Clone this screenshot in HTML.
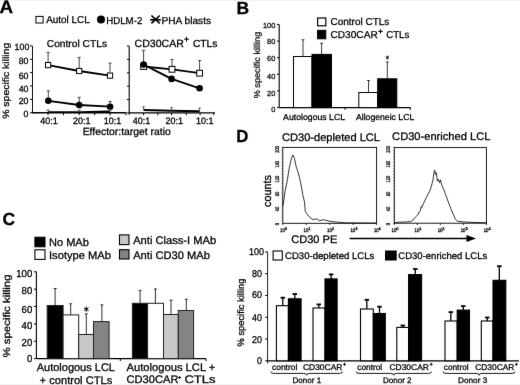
<!DOCTYPE html>
<html><head><meta charset="utf-8"><style>
html,body{margin:0;padding:0;background:#fff;}
svg{display:block;}
text{font-family:"Liberation Sans",sans-serif;text-rendering:geometricPrecision;stroke:currentColor;stroke-width:0.28px;}
</style></head><body>
<svg width="520" height="385" viewBox="0 0 520 385" xmlns="http://www.w3.org/2000/svg">
<defs><filter id="bl" x="0" y="0" width="1" height="1" color-interpolation-filters="sRGB"><feConvolveMatrix order="3" kernelMatrix="0.00276 0.04704 0.00276 0.04704 0.80077 0.04704 0.00276 0.04704 0.00276" divisor="1" edgeMode="duplicate" preserveAlpha="true"/></filter></defs>
<rect width="520" height="385" fill="#fff"/>
<g filter="url(#bl)">
<rect width="520" height="385" fill="#fff"/>
<text x="-0.50" y="12.80" font-size="18" textLength="13.60" lengthAdjust="spacingAndGlyphs" font-weight="bold">A</text>
<rect x="35.90" y="16.40" width="7.20" height="6.60" fill="#fff" stroke="#000" stroke-width="1.0"/>
<text x="46.20" y="23.40" font-size="10" textLength="43.60" lengthAdjust="spacingAndGlyphs">Autol LCL</text>
<circle cx="101.00" cy="19.50" r="4.0" fill="#000"/>
<text x="106.20" y="23.60" font-size="10" textLength="36.10" lengthAdjust="spacingAndGlyphs">HDLM-2</text>
<line x1="151.40" y1="15.50" x2="159.70" y2="23.30" stroke="#000" stroke-width="1.7"/>
<line x1="151.40" y1="23.30" x2="159.70" y2="15.50" stroke="#000" stroke-width="1.7"/>
<line x1="150.20" y1="19.80" x2="160.80" y2="19.80" stroke="#000" stroke-width="1.7"/>
<text x="161.60" y="23.70" font-size="10" textLength="49.40" lengthAdjust="spacingAndGlyphs">PHA blasts</text>
<line x1="32.50" y1="45.90" x2="32.50" y2="113.40" stroke="#111" stroke-width="1.0"/>
<line x1="30.00" y1="112.75" x2="32.25" y2="112.75" stroke="#000" stroke-width="1"/>
<line x1="30.00" y1="99.38" x2="32.25" y2="99.38" stroke="#000" stroke-width="1"/>
<line x1="30.00" y1="86.01" x2="32.25" y2="86.01" stroke="#000" stroke-width="1"/>
<line x1="30.00" y1="72.64" x2="32.25" y2="72.64" stroke="#000" stroke-width="1"/>
<line x1="30.00" y1="59.27" x2="32.25" y2="59.27" stroke="#000" stroke-width="1"/>
<line x1="30.00" y1="45.90" x2="32.25" y2="45.90" stroke="#000" stroke-width="1"/>
<text x="23.61" y="117.19" font-size="9.0" textLength="4.89" lengthAdjust="spacingAndGlyphs">0</text>
<text x="18.71" y="104.19" font-size="9.0" textLength="9.79" lengthAdjust="spacingAndGlyphs">20</text>
<text x="18.71" y="91.79" font-size="9.0" textLength="9.79" lengthAdjust="spacingAndGlyphs">40</text>
<text x="18.71" y="78.59" font-size="9.0" textLength="9.79" lengthAdjust="spacingAndGlyphs">60</text>
<text x="18.71" y="63.90" font-size="9.0" textLength="9.79" lengthAdjust="spacingAndGlyphs">80</text>
<text x="14.62" y="50.49" font-size="9.0" textLength="14.68" lengthAdjust="spacingAndGlyphs">100</text>
<text x="8.70" y="118.80" font-size="9.2" textLength="76.00" lengthAdjust="spacingAndGlyphs" transform="rotate(-90 8.70 118.80)">% specific killing</text>
<line x1="32.25" y1="112.75" x2="126.30" y2="112.75" stroke="#000" stroke-width="1.4"/>
<line x1="48.00" y1="112.75" x2="48.00" y2="115.20" stroke="#000" stroke-width="1"/>
<line x1="63.50" y1="112.75" x2="63.50" y2="115.20" stroke="#000" stroke-width="1"/>
<line x1="79.20" y1="112.75" x2="79.20" y2="115.20" stroke="#000" stroke-width="1"/>
<line x1="94.60" y1="112.75" x2="94.60" y2="115.20" stroke="#000" stroke-width="1"/>
<line x1="110.10" y1="112.75" x2="110.10" y2="115.20" stroke="#000" stroke-width="1"/>
<line x1="126.00" y1="112.75" x2="126.00" y2="115.20" stroke="#000" stroke-width="1"/>
<text x="40.25" y="124.10" font-size="9.4" textLength="17.50" lengthAdjust="spacingAndGlyphs">40:1</text>
<text x="72.95" y="124.10" font-size="9.4" textLength="17.50" lengthAdjust="spacingAndGlyphs">20:1</text>
<text x="103.75" y="124.10" font-size="9.4" textLength="17.50" lengthAdjust="spacingAndGlyphs">10:1</text>
<text x="46.75" y="47.40" font-size="10" textLength="60.25" lengthAdjust="spacingAndGlyphs">Control CTLs</text>
<text x="82.70" y="135.40" font-size="10.4" textLength="88.10" lengthAdjust="spacingAndGlyphs">Effector:target ratio</text>
<line x1="48.10" y1="62.10" x2="48.10" y2="52.30" stroke="#444" stroke-width="1"/>
<line x1="46.60" y1="52.30" x2="49.60" y2="52.30" stroke="#444" stroke-width="1"/>
<line x1="79.20" y1="68.00" x2="79.20" y2="57.40" stroke="#444" stroke-width="1"/>
<line x1="77.70" y1="57.40" x2="80.70" y2="57.40" stroke="#444" stroke-width="1"/>
<line x1="110.00" y1="72.60" x2="110.00" y2="63.10" stroke="#444" stroke-width="1"/>
<line x1="108.50" y1="63.10" x2="111.50" y2="63.10" stroke="#444" stroke-width="1"/>
<polyline points="48.10,65.10 79.20,71.00 110.00,75.60" stroke="#000" stroke-width="1.8" fill="none" stroke-linejoin="round"/>
<rect x="45.50" y="62.50" width="5.20" height="5.20" fill="#fff" stroke="#000" stroke-width="1.0"/>
<rect x="76.60" y="68.40" width="5.20" height="5.20" fill="#fff" stroke="#000" stroke-width="1.0"/>
<rect x="107.40" y="73.00" width="5.20" height="5.20" fill="#fff" stroke="#000" stroke-width="1.0"/>
<line x1="48.30" y1="100.80" x2="48.30" y2="90.80" stroke="#444" stroke-width="1"/>
<line x1="46.80" y1="90.80" x2="49.80" y2="90.80" stroke="#444" stroke-width="1"/>
<line x1="79.20" y1="105.00" x2="79.20" y2="97.30" stroke="#444" stroke-width="1"/>
<line x1="77.70" y1="97.30" x2="80.70" y2="97.30" stroke="#444" stroke-width="1"/>
<line x1="110.10" y1="106.70" x2="110.10" y2="101.50" stroke="#444" stroke-width="1"/>
<line x1="108.60" y1="101.50" x2="111.60" y2="101.50" stroke="#444" stroke-width="1"/>
<polyline points="48.30,100.80 79.20,105.00 110.10,106.70" stroke="#000" stroke-width="1.8" fill="none" stroke-linejoin="round"/>
<circle cx="48.30" cy="100.80" r="3.3" fill="#000"/>
<circle cx="79.20" cy="105.00" r="3.3" fill="#000"/>
<circle cx="110.10" cy="106.70" r="3.3" fill="#000"/>
<polyline points="48.00,112.00 79.20,112.00 110.10,111.20" stroke="#000" stroke-width="1.6" fill="none" stroke-linejoin="round"/>
<line x1="46.75" y1="109.30" x2="49.25" y2="111.30" stroke="#777" stroke-width="0.7"/>
<line x1="46.75" y1="111.30" x2="49.25" y2="109.30" stroke="#777" stroke-width="0.7"/>
<line x1="46.25" y1="110.30" x2="49.75" y2="110.30" stroke="#777" stroke-width="0.7"/>
<line x1="77.95" y1="109.30" x2="80.45" y2="111.30" stroke="#777" stroke-width="0.7"/>
<line x1="77.95" y1="111.30" x2="80.45" y2="109.30" stroke="#777" stroke-width="0.7"/>
<line x1="77.45" y1="110.30" x2="80.95" y2="110.30" stroke="#777" stroke-width="0.7"/>
<line x1="108.85" y1="109.30" x2="111.35" y2="111.30" stroke="#777" stroke-width="0.7"/>
<line x1="108.85" y1="111.30" x2="111.35" y2="109.30" stroke="#777" stroke-width="0.7"/>
<line x1="108.35" y1="110.30" x2="111.85" y2="110.30" stroke="#777" stroke-width="0.7"/>
<line x1="129.20" y1="46.20" x2="129.20" y2="114.80" stroke="#000" stroke-width="1.1"/>
<line x1="127.00" y1="112.90" x2="129.20" y2="112.90" stroke="#000" stroke-width="1"/>
<line x1="127.00" y1="99.53" x2="129.20" y2="99.53" stroke="#000" stroke-width="1"/>
<line x1="127.00" y1="86.16" x2="129.20" y2="86.16" stroke="#000" stroke-width="1"/>
<line x1="127.00" y1="72.79" x2="129.20" y2="72.79" stroke="#000" stroke-width="1"/>
<line x1="127.00" y1="59.42" x2="129.20" y2="59.42" stroke="#000" stroke-width="1"/>
<line x1="127.00" y1="46.05" x2="129.20" y2="46.05" stroke="#000" stroke-width="1"/>
<line x1="129.20" y1="112.90" x2="215.00" y2="112.90" stroke="#000" stroke-width="1.4"/>
<line x1="143.60" y1="112.90" x2="143.60" y2="115.20" stroke="#000" stroke-width="1"/>
<line x1="157.80" y1="112.90" x2="157.80" y2="115.20" stroke="#000" stroke-width="1"/>
<line x1="171.50" y1="112.90" x2="171.50" y2="115.20" stroke="#000" stroke-width="1"/>
<line x1="186.30" y1="112.90" x2="186.30" y2="115.20" stroke="#000" stroke-width="1"/>
<line x1="200.10" y1="112.90" x2="200.10" y2="115.20" stroke="#000" stroke-width="1"/>
<line x1="213.80" y1="112.90" x2="213.80" y2="115.20" stroke="#000" stroke-width="1"/>
<text x="132.75" y="124.10" font-size="9.4" textLength="17.50" lengthAdjust="spacingAndGlyphs">40:1</text>
<text x="165.55" y="124.10" font-size="9.4" textLength="17.50" lengthAdjust="spacingAndGlyphs">20:1</text>
<text x="195.95" y="124.10" font-size="9.4" textLength="17.50" lengthAdjust="spacingAndGlyphs">10:1</text>
<text x="134.60" y="46.70" font-size="10.5" textLength="49.20" lengthAdjust="spacingAndGlyphs">CD30CAR</text>
<line x1="184.20" y1="39.20" x2="188.80" y2="39.20" stroke="#000" stroke-width="1.1"/>
<line x1="186.50" y1="36.90" x2="186.50" y2="41.50" stroke="#000" stroke-width="1.1"/>
<text x="192.90" y="46.70" font-size="10.2" textLength="24.60" lengthAdjust="spacingAndGlyphs">CTLs</text>
<line x1="143.60" y1="64.00" x2="143.60" y2="50.30" stroke="#444" stroke-width="1"/>
<line x1="142.10" y1="50.30" x2="145.10" y2="50.30" stroke="#444" stroke-width="1"/>
<line x1="172.00" y1="66.00" x2="172.00" y2="59.50" stroke="#444" stroke-width="1"/>
<line x1="170.50" y1="59.50" x2="173.50" y2="59.50" stroke="#444" stroke-width="1"/>
<line x1="199.60" y1="70.00" x2="199.60" y2="60.60" stroke="#444" stroke-width="1"/>
<line x1="198.10" y1="60.60" x2="201.10" y2="60.60" stroke="#444" stroke-width="1"/>
<polyline points="143.60,66.50 172.00,69.30 199.60,73.20" stroke="#000" stroke-width="1.8" fill="none" stroke-linejoin="round"/>
<polyline points="143.60,64.60 171.60,78.90 199.60,88.30" stroke="#000" stroke-width="1.8" fill="none" stroke-linejoin="round"/>
<rect x="140.70" y="63.60" width="5.80" height="5.80" fill="#fff" stroke="#000" stroke-width="1.0"/>
<rect x="169.10" y="66.40" width="5.80" height="5.80" fill="#fff" stroke="#000" stroke-width="1.0"/>
<rect x="196.70" y="70.30" width="5.80" height="5.80" fill="#fff" stroke="#000" stroke-width="1.0"/>
<circle cx="143.60" cy="64.60" r="3.3" fill="#000"/>
<circle cx="171.60" cy="78.90" r="3.3" fill="#000"/>
<circle cx="199.60" cy="88.30" r="3.3" fill="#000"/>
<polyline points="143.60,110.00 171.60,110.80 199.60,111.30" stroke="#000" stroke-width="1.9" fill="none" stroke-linejoin="round"/>
<line x1="143.60" y1="110.00" x2="143.60" y2="106.80" stroke="#333" stroke-width="0.8"/>
<line x1="142.40" y1="106.80" x2="144.80" y2="106.80" stroke="#333" stroke-width="0.8"/>
<line x1="171.60" y1="110.80" x2="171.60" y2="107.60" stroke="#333" stroke-width="0.8"/>
<line x1="170.40" y1="107.60" x2="172.80" y2="107.60" stroke="#333" stroke-width="0.8"/>
<line x1="199.60" y1="111.30" x2="199.60" y2="108.10" stroke="#333" stroke-width="0.8"/>
<line x1="198.40" y1="108.10" x2="200.80" y2="108.10" stroke="#333" stroke-width="0.8"/>
<text x="236.60" y="13.80" font-size="17.5" font-weight="bold">B</text>
<line x1="279.20" y1="24.40" x2="279.20" y2="107.60" stroke="#000" stroke-width="1.1"/>
<line x1="277.00" y1="107.60" x2="279.20" y2="107.60" stroke="#000" stroke-width="1"/>
<line x1="277.00" y1="90.96" x2="279.20" y2="90.96" stroke="#000" stroke-width="1"/>
<line x1="277.00" y1="74.32" x2="279.20" y2="74.32" stroke="#000" stroke-width="1"/>
<line x1="277.00" y1="57.68" x2="279.20" y2="57.68" stroke="#000" stroke-width="1"/>
<line x1="277.00" y1="41.04" x2="279.20" y2="41.04" stroke="#000" stroke-width="1"/>
<line x1="277.00" y1="24.40" x2="279.20" y2="24.40" stroke="#000" stroke-width="1"/>
<text x="275.30" y="111.53" font-size="7.4" text-anchor="end" fill="#222">0</text>
<text x="275.30" y="95.63" font-size="7.4" text-anchor="end" fill="#222">20</text>
<text x="275.30" y="78.63" font-size="7.4" text-anchor="end" fill="#222">40</text>
<text x="275.30" y="61.23" font-size="7.4" text-anchor="end" fill="#222">60</text>
<text x="275.30" y="43.83" font-size="7.4" text-anchor="end" fill="#222">80</text>
<text x="275.30" y="27.83" font-size="7.4" text-anchor="end" fill="#222">100</text>
<line x1="279.20" y1="107.60" x2="410.50" y2="107.60" stroke="#000" stroke-width="1.2"/>
<line x1="345.00" y1="107.60" x2="345.00" y2="109.80" stroke="#000" stroke-width="1"/>
<line x1="410.30" y1="107.60" x2="410.30" y2="109.80" stroke="#000" stroke-width="1"/>
<line x1="303.00" y1="56.50" x2="303.00" y2="39.80" stroke="#222" stroke-width="0.9"/>
<line x1="301.50" y1="39.80" x2="304.50" y2="39.80" stroke="#222" stroke-width="0.9"/>
<line x1="321.60" y1="54.40" x2="321.60" y2="43.30" stroke="#222" stroke-width="0.9"/>
<line x1="320.10" y1="43.30" x2="323.10" y2="43.30" stroke="#222" stroke-width="0.9"/>
<line x1="368.50" y1="92.50" x2="368.50" y2="80.50" stroke="#222" stroke-width="0.9"/>
<line x1="367.00" y1="80.50" x2="370.00" y2="80.50" stroke="#222" stroke-width="0.9"/>
<line x1="387.30" y1="78.80" x2="387.30" y2="62.00" stroke="#222" stroke-width="0.9"/>
<line x1="385.80" y1="62.00" x2="388.80" y2="62.00" stroke="#222" stroke-width="0.9"/>
<rect x="293.50" y="56.50" width="18.50" height="51.10" fill="#fff" stroke="#000" stroke-width="1"/>
<rect x="312.00" y="54.40" width="19.50" height="53.20" fill="#000" stroke="#000" stroke-width="1"/>
<rect x="358.80" y="92.50" width="18.90" height="15.10" fill="#fff" stroke="#000" stroke-width="1"/>
<rect x="377.70" y="78.80" width="19.10" height="28.80" fill="#000" stroke="#000" stroke-width="1"/>
<line x1="387.40" y1="55.50" x2="387.40" y2="59.50" stroke="#000" stroke-width="0.8"/>
<line x1="385.67" y1="56.50" x2="389.13" y2="58.50" stroke="#000" stroke-width="0.8"/>
<line x1="389.13" y1="56.50" x2="385.67" y2="58.50" stroke="#000" stroke-width="0.8"/>
<text x="260.40" y="98.30" font-size="8.6" textLength="66.60" lengthAdjust="spacingAndGlyphs" fill="#333" transform="rotate(-90 260.40 98.30)">% specific killing</text>
<rect x="317.60" y="18.00" width="8.20" height="7.80" fill="#fff" stroke="#000" stroke-width="1.2"/>
<text x="330.50" y="24.80" font-size="10" textLength="58.80" lengthAdjust="spacingAndGlyphs">Control CTLs</text>
<rect x="317.60" y="30.30" width="8.20" height="8.50" fill="#000" stroke="#000" stroke-width="1"/>
<text x="330.50" y="37.60" font-size="10" textLength="47.20" lengthAdjust="spacingAndGlyphs">CD30CAR</text>
<line x1="378.35" y1="31.40" x2="382.65" y2="31.40" stroke="#000" stroke-width="1.1"/>
<line x1="380.50" y1="29.25" x2="380.50" y2="33.55" stroke="#000" stroke-width="1.1"/>
<text x="386.20" y="37.60" font-size="10" textLength="23.20" lengthAdjust="spacingAndGlyphs">CTLs</text>
<text x="283.10" y="120.00" font-size="8.7" textLength="62.00" lengthAdjust="spacingAndGlyphs">Autologous LCL</text>
<text x="356.00" y="120.00" font-size="8.7" textLength="58.20" lengthAdjust="spacingAndGlyphs">Allogeneic LCL</text>
<text x="2.60" y="224.80" font-size="17.5" font-weight="bold">C</text>
<rect x="34.90" y="237.20" width="10.10" height="9.60" fill="#000" stroke="#000" stroke-width="1"/>
<text x="49.00" y="245.60" font-size="11.0" textLength="39.80" lengthAdjust="spacingAndGlyphs">No MAb</text>
<rect x="34.90" y="249.80" width="10.10" height="9.60" fill="#fff" stroke="#000" stroke-width="1.1"/>
<text x="49.00" y="258.70" font-size="11.0" textLength="62.00" lengthAdjust="spacingAndGlyphs">Isotype MAb</text>
<rect x="119.50" y="234.90" width="9.50" height="9.70" fill="#c8c8c8" stroke="#000" stroke-width="1.1"/>
<text x="133.20" y="244.00" font-size="11.0" textLength="83.00" lengthAdjust="spacingAndGlyphs">Anti Class-I MAb</text>
<rect x="119.50" y="249.70" width="9.50" height="9.30" fill="#848484" stroke="#000" stroke-width="1.1"/>
<text x="133.20" y="259.00" font-size="11.0" textLength="76.80" lengthAdjust="spacingAndGlyphs">Anti CD30 MAb</text>
<line x1="36.40" y1="271.80" x2="36.40" y2="358.60" stroke="#000" stroke-width="1.1"/>
<line x1="34.00" y1="358.60" x2="36.40" y2="358.60" stroke="#000" stroke-width="1"/>
<line x1="34.00" y1="341.24" x2="36.40" y2="341.24" stroke="#000" stroke-width="1"/>
<line x1="34.00" y1="323.88" x2="36.40" y2="323.88" stroke="#000" stroke-width="1"/>
<line x1="34.00" y1="306.52" x2="36.40" y2="306.52" stroke="#000" stroke-width="1"/>
<line x1="34.00" y1="289.16" x2="36.40" y2="289.16" stroke="#000" stroke-width="1"/>
<line x1="34.00" y1="271.80" x2="36.40" y2="271.80" stroke="#000" stroke-width="1"/>
<text x="26.96" y="361.89" font-size="10.1" textLength="5.34" lengthAdjust="spacingAndGlyphs">0</text>
<text x="21.62" y="345.99" font-size="10.1" textLength="10.68" lengthAdjust="spacingAndGlyphs">20</text>
<text x="21.62" y="329.19" font-size="10.1" textLength="10.68" lengthAdjust="spacingAndGlyphs">40</text>
<text x="21.62" y="313.09" font-size="10.1" textLength="10.68" lengthAdjust="spacingAndGlyphs">60</text>
<text x="21.62" y="294.19" font-size="10.1" textLength="10.68" lengthAdjust="spacingAndGlyphs">80</text>
<text x="16.29" y="277.19" font-size="10.1" textLength="16.01" lengthAdjust="spacingAndGlyphs">100</text>
<line x1="36.40" y1="358.60" x2="206.00" y2="358.60" stroke="#000" stroke-width="1.2"/>
<line x1="120.30" y1="358.60" x2="120.30" y2="361.00" stroke="#000" stroke-width="1"/>
<line x1="206.00" y1="358.60" x2="206.00" y2="361.00" stroke="#000" stroke-width="1"/>
<line x1="55.10" y1="305.50" x2="55.10" y2="288.50" stroke="#1a1a1a" stroke-width="0.9"/>
<line x1="53.60" y1="288.50" x2="56.60" y2="288.50" stroke="#1a1a1a" stroke-width="0.9"/>
<line x1="70.70" y1="314.90" x2="70.70" y2="303.80" stroke="#1a1a1a" stroke-width="0.9"/>
<line x1="69.20" y1="303.80" x2="72.20" y2="303.80" stroke="#1a1a1a" stroke-width="0.9"/>
<line x1="86.30" y1="334.50" x2="86.30" y2="313.90" stroke="#1a1a1a" stroke-width="0.9"/>
<line x1="84.80" y1="313.90" x2="87.80" y2="313.90" stroke="#1a1a1a" stroke-width="0.9"/>
<line x1="101.90" y1="321.60" x2="101.90" y2="304.90" stroke="#1a1a1a" stroke-width="0.9"/>
<line x1="100.40" y1="304.90" x2="103.40" y2="304.90" stroke="#1a1a1a" stroke-width="0.9"/>
<line x1="140.10" y1="303.30" x2="140.10" y2="290.40" stroke="#1a1a1a" stroke-width="0.9"/>
<line x1="138.60" y1="290.40" x2="141.60" y2="290.40" stroke="#1a1a1a" stroke-width="0.9"/>
<line x1="155.40" y1="303.30" x2="155.40" y2="289.00" stroke="#1a1a1a" stroke-width="0.9"/>
<line x1="153.90" y1="289.00" x2="156.90" y2="289.00" stroke="#1a1a1a" stroke-width="0.9"/>
<line x1="171.00" y1="314.50" x2="171.00" y2="300.20" stroke="#1a1a1a" stroke-width="0.9"/>
<line x1="169.50" y1="300.20" x2="172.50" y2="300.20" stroke="#1a1a1a" stroke-width="0.9"/>
<line x1="186.30" y1="310.50" x2="186.30" y2="299.30" stroke="#1a1a1a" stroke-width="0.9"/>
<line x1="184.80" y1="299.30" x2="187.80" y2="299.30" stroke="#1a1a1a" stroke-width="0.9"/>
<rect x="47.20" y="305.50" width="15.90" height="53.10" fill="#000" stroke="#222" stroke-width="1"/>
<rect x="63.10" y="314.90" width="15.60" height="43.70" fill="#fff" stroke="#222" stroke-width="1"/>
<rect x="78.70" y="334.50" width="14.80" height="24.10" fill="#c8c8c8" stroke="#222" stroke-width="1"/>
<rect x="93.50" y="321.60" width="15.60" height="37.00" fill="#848484" stroke="#222" stroke-width="1"/>
<rect x="132.40" y="303.30" width="15.20" height="55.30" fill="#000" stroke="#222" stroke-width="1"/>
<rect x="147.60" y="303.30" width="15.90" height="55.30" fill="#fff" stroke="#222" stroke-width="1"/>
<rect x="163.50" y="314.50" width="14.80" height="44.10" fill="#c8c8c8" stroke="#222" stroke-width="1"/>
<rect x="178.30" y="310.50" width="15.30" height="48.10" fill="#848484" stroke="#222" stroke-width="1"/>
<line x1="86.30" y1="306.60" x2="86.30" y2="311.80" stroke="#000" stroke-width="1"/>
<line x1="84.05" y1="307.90" x2="88.55" y2="310.50" stroke="#000" stroke-width="1"/>
<line x1="88.55" y1="307.90" x2="84.05" y2="310.50" stroke="#000" stroke-width="1"/>
<text x="10.00" y="357.50" font-size="9.8" textLength="83.00" lengthAdjust="spacingAndGlyphs" transform="rotate(-90 10.00 357.50)">% specific killing</text>
<text x="36.70" y="371.30" font-size="11.0" textLength="78.30" lengthAdjust="spacingAndGlyphs">Autologous LCL</text>
<text x="39.60" y="383.60" font-size="11.0" textLength="72.70" lengthAdjust="spacingAndGlyphs">+ control CTLs</text>
<text x="126.50" y="371.10" font-size="11.0" textLength="88.90" lengthAdjust="spacingAndGlyphs">Autologous LCL +</text>
<text x="126.50" y="383.00" font-size="11.0" textLength="52.00" lengthAdjust="spacingAndGlyphs">CD30CAR</text>
<line x1="178.10" y1="377.50" x2="181.10" y2="377.50" stroke="#000" stroke-width="0.9"/>
<line x1="179.60" y1="376.00" x2="179.60" y2="379.00" stroke="#000" stroke-width="0.9"/>
<text x="184.40" y="383.00" font-size="11.0" textLength="31.00" lengthAdjust="spacingAndGlyphs">CTLs</text>
<text x="236.20" y="142.00" font-size="17.5" textLength="12.10" lengthAdjust="spacingAndGlyphs" font-weight="bold">D</text>
<text x="282.00" y="141.30" font-size="11.0" textLength="98.00" lengthAdjust="spacingAndGlyphs">CD30-depleted LCL</text>
<text x="392.10" y="139.80" font-size="11.0" textLength="98.30" lengthAdjust="spacingAndGlyphs">CD30-enriched LCL</text>
<rect x="282.80" y="147.40" width="93.80" height="75.90" fill="none" stroke="#000" stroke-width="0.9"/>
<rect x="394.30" y="147.60" width="92.10" height="75.60" fill="none" stroke="#000" stroke-width="0.9"/>
<text x="271.30" y="207.00" font-size="11.3" textLength="31.80" lengthAdjust="spacingAndGlyphs" transform="rotate(-90 271.30 207.00)">counts</text>
<line x1="282.80" y1="223.30" x2="282.80" y2="225.00" stroke="#000" stroke-width="0.8"/>
<text x="280.10" y="232.20" font-size="5.2" textLength="4.80" lengthAdjust="spacingAndGlyphs" fill="#111">10</text>
<text x="284.80" y="229.70" font-size="4.0" fill="#111">0</text>
<line x1="306.25" y1="223.30" x2="306.25" y2="225.00" stroke="#000" stroke-width="0.8"/>
<text x="303.55" y="232.20" font-size="5.2" textLength="4.80" lengthAdjust="spacingAndGlyphs" fill="#111">10</text>
<text x="308.25" y="229.70" font-size="4.0" fill="#111">1</text>
<line x1="329.70" y1="223.30" x2="329.70" y2="225.00" stroke="#000" stroke-width="0.8"/>
<text x="327.00" y="232.20" font-size="5.2" textLength="4.80" lengthAdjust="spacingAndGlyphs" fill="#111">10</text>
<text x="331.70" y="229.70" font-size="4.0" fill="#111">2</text>
<line x1="353.15" y1="223.30" x2="353.15" y2="225.00" stroke="#000" stroke-width="0.8"/>
<text x="350.45" y="232.20" font-size="5.2" textLength="4.80" lengthAdjust="spacingAndGlyphs" fill="#111">10</text>
<text x="355.15" y="229.70" font-size="4.0" fill="#111">3</text>
<line x1="376.60" y1="223.30" x2="376.60" y2="225.00" stroke="#000" stroke-width="0.8"/>
<text x="373.90" y="232.20" font-size="5.2" textLength="4.80" lengthAdjust="spacingAndGlyphs" fill="#111">10</text>
<text x="378.60" y="229.70" font-size="4.0" fill="#111">4</text>
<line x1="281.60" y1="223.30" x2="282.80" y2="223.30" stroke="#333" stroke-width="0.6"/>
<line x1="281.60" y1="220.26" x2="282.80" y2="220.26" stroke="#333" stroke-width="0.6"/>
<line x1="281.60" y1="217.21" x2="282.80" y2="217.21" stroke="#333" stroke-width="0.6"/>
<line x1="281.60" y1="214.17" x2="282.80" y2="214.17" stroke="#333" stroke-width="0.6"/>
<line x1="281.60" y1="211.12" x2="282.80" y2="211.12" stroke="#333" stroke-width="0.6"/>
<line x1="281.60" y1="208.08" x2="282.80" y2="208.08" stroke="#333" stroke-width="0.6"/>
<line x1="281.60" y1="205.04" x2="282.80" y2="205.04" stroke="#333" stroke-width="0.6"/>
<line x1="281.60" y1="201.99" x2="282.80" y2="201.99" stroke="#333" stroke-width="0.6"/>
<line x1="281.60" y1="198.95" x2="282.80" y2="198.95" stroke="#333" stroke-width="0.6"/>
<line x1="281.60" y1="195.90" x2="282.80" y2="195.90" stroke="#333" stroke-width="0.6"/>
<line x1="281.60" y1="192.86" x2="282.80" y2="192.86" stroke="#333" stroke-width="0.6"/>
<line x1="281.60" y1="189.82" x2="282.80" y2="189.82" stroke="#333" stroke-width="0.6"/>
<line x1="281.60" y1="186.77" x2="282.80" y2="186.77" stroke="#333" stroke-width="0.6"/>
<line x1="281.60" y1="183.73" x2="282.80" y2="183.73" stroke="#333" stroke-width="0.6"/>
<line x1="281.60" y1="180.68" x2="282.80" y2="180.68" stroke="#333" stroke-width="0.6"/>
<line x1="281.60" y1="177.64" x2="282.80" y2="177.64" stroke="#333" stroke-width="0.6"/>
<line x1="281.60" y1="174.60" x2="282.80" y2="174.60" stroke="#333" stroke-width="0.6"/>
<line x1="281.60" y1="171.55" x2="282.80" y2="171.55" stroke="#333" stroke-width="0.6"/>
<line x1="281.60" y1="168.51" x2="282.80" y2="168.51" stroke="#333" stroke-width="0.6"/>
<line x1="281.60" y1="165.46" x2="282.80" y2="165.46" stroke="#333" stroke-width="0.6"/>
<line x1="281.60" y1="162.42" x2="282.80" y2="162.42" stroke="#333" stroke-width="0.6"/>
<line x1="281.60" y1="159.38" x2="282.80" y2="159.38" stroke="#333" stroke-width="0.6"/>
<line x1="281.60" y1="156.33" x2="282.80" y2="156.33" stroke="#333" stroke-width="0.6"/>
<line x1="281.60" y1="153.29" x2="282.80" y2="153.29" stroke="#333" stroke-width="0.6"/>
<line x1="281.60" y1="150.24" x2="282.80" y2="150.24" stroke="#333" stroke-width="0.6"/>
<line x1="281.60" y1="147.20" x2="282.80" y2="147.20" stroke="#333" stroke-width="0.6"/>
<text x="279.00" y="152.65" font-size="5.4" textLength="6.70" lengthAdjust="spacingAndGlyphs" fill="#111" transform="rotate(-90 279.00 152.65)">200</text>
<text x="279.00" y="167.59" font-size="5.4" textLength="6.70" lengthAdjust="spacingAndGlyphs" fill="#111" transform="rotate(-90 279.00 167.59)">160</text>
<text x="279.00" y="182.53" font-size="5.4" textLength="6.70" lengthAdjust="spacingAndGlyphs" fill="#111" transform="rotate(-90 279.00 182.53)">120</text>
<text x="279.00" y="196.37" font-size="5.4" textLength="4.50" lengthAdjust="spacingAndGlyphs" fill="#111" transform="rotate(-90 279.00 196.37)">80</text>
<text x="279.00" y="211.31" font-size="5.4" textLength="4.50" lengthAdjust="spacingAndGlyphs" fill="#111" transform="rotate(-90 279.00 211.31)">40</text>
<text x="279.00" y="225.15" font-size="5.4" textLength="2.30" lengthAdjust="spacingAndGlyphs" fill="#111" transform="rotate(-90 279.00 225.15)">0</text>
<line x1="394.30" y1="223.30" x2="394.30" y2="225.00" stroke="#000" stroke-width="0.8"/>
<text x="391.60" y="232.20" font-size="5.2" textLength="4.80" lengthAdjust="spacingAndGlyphs" fill="#111">10</text>
<text x="396.30" y="229.70" font-size="4.0" fill="#111">0</text>
<line x1="417.32" y1="223.30" x2="417.32" y2="225.00" stroke="#000" stroke-width="0.8"/>
<text x="414.62" y="232.20" font-size="5.2" textLength="4.80" lengthAdjust="spacingAndGlyphs" fill="#111">10</text>
<text x="419.32" y="229.70" font-size="4.0" fill="#111">1</text>
<line x1="440.35" y1="223.30" x2="440.35" y2="225.00" stroke="#000" stroke-width="0.8"/>
<text x="437.65" y="232.20" font-size="5.2" textLength="4.80" lengthAdjust="spacingAndGlyphs" fill="#111">10</text>
<text x="442.35" y="229.70" font-size="4.0" fill="#111">2</text>
<line x1="463.38" y1="223.30" x2="463.38" y2="225.00" stroke="#000" stroke-width="0.8"/>
<text x="460.68" y="232.20" font-size="5.2" textLength="4.80" lengthAdjust="spacingAndGlyphs" fill="#111">10</text>
<text x="465.38" y="229.70" font-size="4.0" fill="#111">3</text>
<line x1="486.40" y1="223.30" x2="486.40" y2="225.00" stroke="#000" stroke-width="0.8"/>
<text x="483.70" y="232.20" font-size="5.2" textLength="4.80" lengthAdjust="spacingAndGlyphs" fill="#111">10</text>
<text x="488.40" y="229.70" font-size="4.0" fill="#111">4</text>
<line x1="393.10" y1="223.30" x2="394.30" y2="223.30" stroke="#333" stroke-width="0.6"/>
<line x1="393.10" y1="220.26" x2="394.30" y2="220.26" stroke="#333" stroke-width="0.6"/>
<line x1="393.10" y1="217.21" x2="394.30" y2="217.21" stroke="#333" stroke-width="0.6"/>
<line x1="393.10" y1="214.17" x2="394.30" y2="214.17" stroke="#333" stroke-width="0.6"/>
<line x1="393.10" y1="211.12" x2="394.30" y2="211.12" stroke="#333" stroke-width="0.6"/>
<line x1="393.10" y1="208.08" x2="394.30" y2="208.08" stroke="#333" stroke-width="0.6"/>
<line x1="393.10" y1="205.04" x2="394.30" y2="205.04" stroke="#333" stroke-width="0.6"/>
<line x1="393.10" y1="201.99" x2="394.30" y2="201.99" stroke="#333" stroke-width="0.6"/>
<line x1="393.10" y1="198.95" x2="394.30" y2="198.95" stroke="#333" stroke-width="0.6"/>
<line x1="393.10" y1="195.90" x2="394.30" y2="195.90" stroke="#333" stroke-width="0.6"/>
<line x1="393.10" y1="192.86" x2="394.30" y2="192.86" stroke="#333" stroke-width="0.6"/>
<line x1="393.10" y1="189.82" x2="394.30" y2="189.82" stroke="#333" stroke-width="0.6"/>
<line x1="393.10" y1="186.77" x2="394.30" y2="186.77" stroke="#333" stroke-width="0.6"/>
<line x1="393.10" y1="183.73" x2="394.30" y2="183.73" stroke="#333" stroke-width="0.6"/>
<line x1="393.10" y1="180.68" x2="394.30" y2="180.68" stroke="#333" stroke-width="0.6"/>
<line x1="393.10" y1="177.64" x2="394.30" y2="177.64" stroke="#333" stroke-width="0.6"/>
<line x1="393.10" y1="174.60" x2="394.30" y2="174.60" stroke="#333" stroke-width="0.6"/>
<line x1="393.10" y1="171.55" x2="394.30" y2="171.55" stroke="#333" stroke-width="0.6"/>
<line x1="393.10" y1="168.51" x2="394.30" y2="168.51" stroke="#333" stroke-width="0.6"/>
<line x1="393.10" y1="165.46" x2="394.30" y2="165.46" stroke="#333" stroke-width="0.6"/>
<line x1="393.10" y1="162.42" x2="394.30" y2="162.42" stroke="#333" stroke-width="0.6"/>
<line x1="393.10" y1="159.38" x2="394.30" y2="159.38" stroke="#333" stroke-width="0.6"/>
<line x1="393.10" y1="156.33" x2="394.30" y2="156.33" stroke="#333" stroke-width="0.6"/>
<line x1="393.10" y1="153.29" x2="394.30" y2="153.29" stroke="#333" stroke-width="0.6"/>
<line x1="393.10" y1="150.24" x2="394.30" y2="150.24" stroke="#333" stroke-width="0.6"/>
<line x1="393.10" y1="147.20" x2="394.30" y2="147.20" stroke="#333" stroke-width="0.6"/>
<text x="390.50" y="152.65" font-size="5.4" textLength="6.70" lengthAdjust="spacingAndGlyphs" fill="#111" transform="rotate(-90 390.50 152.65)">200</text>
<text x="390.50" y="167.59" font-size="5.4" textLength="6.70" lengthAdjust="spacingAndGlyphs" fill="#111" transform="rotate(-90 390.50 167.59)">160</text>
<text x="390.50" y="182.53" font-size="5.4" textLength="6.70" lengthAdjust="spacingAndGlyphs" fill="#111" transform="rotate(-90 390.50 182.53)">120</text>
<text x="390.50" y="196.37" font-size="5.4" textLength="4.50" lengthAdjust="spacingAndGlyphs" fill="#111" transform="rotate(-90 390.50 196.37)">80</text>
<text x="390.50" y="211.31" font-size="5.4" textLength="4.50" lengthAdjust="spacingAndGlyphs" fill="#111" transform="rotate(-90 390.50 211.31)">40</text>
<text x="390.50" y="225.15" font-size="5.4" textLength="2.30" lengthAdjust="spacingAndGlyphs" fill="#111" transform="rotate(-90 390.50 225.15)">0</text>
<polyline points="282.80,205.50 283.10,205.20 285.20,190.60 287.30,180.30 289.30,167.80 291.40,158.50 292.90,155.00 294.50,158.50 296.20,166.80 297.60,170.90 299.70,178.20 301.40,186.50 302.80,194.80 304.50,202.00 305.30,211.40 307.00,213.90 309.00,216.60 312.20,219.30 315.30,219.30 316.30,218.70 319.40,220.70 323.60,219.70 329.80,221.30 336.00,222.00 345.00,222.80 376.60,223.10" stroke="#000" stroke-width="0.8" fill="none" stroke-linejoin="round"/>
<polyline points="394.30,222.60 400.00,222.20 405.00,222.00 410.50,221.60 412.60,220.60 415.10,217.50 417.70,214.90 420.20,210.70 421.20,206.50 421.90,207.60 423.60,203.10 426.10,198.00 427.80,194.60 429.50,191.30 431.20,187.00 432.90,180.30 434.10,171.80 434.70,170.10 435.40,174.40 436.30,172.70 437.40,181.10 438.50,179.40 439.60,182.80 440.50,179.90 441.80,185.40 443.50,188.70 445.60,194.60 448.10,201.40 450.60,208.20 453.20,214.10 455.40,219.20 457.40,221.20 462.00,221.80 470.00,222.30 486.40,222.80" stroke="#000" stroke-width="0.8" fill="none" stroke-linejoin="round"/>
<text x="291.20" y="243.30" font-size="11" textLength="46.10" lengthAdjust="spacingAndGlyphs">CD30 PE</text>
<line x1="349.60" y1="238.50" x2="468.00" y2="238.50" stroke="#000" stroke-width="1.7"/>
<polygon points="466.5,235 476,238.5 466.5,242" fill="#000"/>
<line x1="267.60" y1="251.90" x2="267.60" y2="363.50" stroke="#222" stroke-width="1.0"/>
<line x1="265.20" y1="360.80" x2="267.60" y2="360.80" stroke="#000" stroke-width="1"/>
<line x1="265.20" y1="339.02" x2="267.60" y2="339.02" stroke="#000" stroke-width="1"/>
<line x1="265.20" y1="317.24" x2="267.60" y2="317.24" stroke="#000" stroke-width="1"/>
<line x1="265.20" y1="295.46" x2="267.60" y2="295.46" stroke="#000" stroke-width="1"/>
<line x1="265.20" y1="273.68" x2="267.60" y2="273.68" stroke="#000" stroke-width="1"/>
<line x1="265.20" y1="251.90" x2="267.60" y2="251.90" stroke="#000" stroke-width="1"/>
<text x="256.90" y="364.41" font-size="9.9" textLength="5.00" lengthAdjust="spacingAndGlyphs">0</text>
<text x="251.89" y="343.21" font-size="9.9" textLength="10.01" lengthAdjust="spacingAndGlyphs">20</text>
<text x="251.89" y="320.71" font-size="9.9" textLength="10.01" lengthAdjust="spacingAndGlyphs">40</text>
<text x="251.89" y="298.01" font-size="9.9" textLength="10.01" lengthAdjust="spacingAndGlyphs">60</text>
<text x="251.89" y="277.01" font-size="9.9" textLength="10.01" lengthAdjust="spacingAndGlyphs">80</text>
<text x="248.89" y="255.21" font-size="9.9" textLength="15.01" lengthAdjust="spacingAndGlyphs">100</text>
<line x1="267.60" y1="360.80" x2="519.00" y2="360.80" stroke="#000" stroke-width="1.2"/>
<text x="244.00" y="346.50" font-size="9.3" textLength="67.90" lengthAdjust="spacingAndGlyphs" transform="rotate(-90 244.00 346.50)">% specific killing</text>
<rect x="273.10" y="251.00" width="9.20" height="9.00" fill="#fff" stroke="#000" stroke-width="1.1"/>
<text x="285.00" y="259.40" font-size="9.6" textLength="89.40" lengthAdjust="spacingAndGlyphs">CD30-depleted LCLs</text>
<rect x="385.50" y="251.00" width="10.70" height="9.00" fill="#000" stroke="#000" stroke-width="1"/>
<text x="398.30" y="259.40" font-size="9.6" textLength="88.90" lengthAdjust="spacingAndGlyphs">CD30-enriched LCLs</text>
<line x1="282.80" y1="305.70" x2="282.80" y2="297.70" stroke="#000" stroke-width="1.3"/>
<line x1="280.55" y1="297.70" x2="285.05" y2="297.70" stroke="#000" stroke-width="1.8"/>
<line x1="294.80" y1="298.80" x2="294.80" y2="294.00" stroke="#000" stroke-width="1.3"/>
<line x1="292.55" y1="294.00" x2="297.05" y2="294.00" stroke="#000" stroke-width="1.8"/>
<line x1="318.80" y1="308.00" x2="318.80" y2="304.40" stroke="#000" stroke-width="1.3"/>
<line x1="316.55" y1="304.40" x2="321.05" y2="304.40" stroke="#000" stroke-width="1.8"/>
<line x1="331.10" y1="278.90" x2="331.10" y2="274.40" stroke="#000" stroke-width="1.3"/>
<line x1="328.85" y1="274.40" x2="333.35" y2="274.40" stroke="#000" stroke-width="1.8"/>
<line x1="366.80" y1="309.00" x2="366.80" y2="299.80" stroke="#000" stroke-width="1.3"/>
<line x1="364.55" y1="299.80" x2="369.05" y2="299.80" stroke="#000" stroke-width="1.8"/>
<line x1="379.50" y1="313.50" x2="379.50" y2="306.70" stroke="#000" stroke-width="1.3"/>
<line x1="377.25" y1="306.70" x2="381.75" y2="306.70" stroke="#000" stroke-width="1.8"/>
<line x1="402.80" y1="327.40" x2="402.80" y2="325.50" stroke="#000" stroke-width="1.3"/>
<line x1="400.55" y1="325.50" x2="405.05" y2="325.50" stroke="#000" stroke-width="1.8"/>
<line x1="415.30" y1="274.60" x2="415.30" y2="269.00" stroke="#000" stroke-width="1.3"/>
<line x1="413.05" y1="269.00" x2="417.55" y2="269.00" stroke="#000" stroke-width="1.8"/>
<line x1="450.80" y1="321.00" x2="450.80" y2="312.10" stroke="#000" stroke-width="1.3"/>
<line x1="448.55" y1="312.10" x2="453.05" y2="312.10" stroke="#000" stroke-width="1.8"/>
<line x1="463.30" y1="310.10" x2="463.30" y2="306.10" stroke="#000" stroke-width="1.3"/>
<line x1="461.05" y1="306.10" x2="465.55" y2="306.10" stroke="#000" stroke-width="1.8"/>
<line x1="487.30" y1="321.00" x2="487.30" y2="317.50" stroke="#000" stroke-width="1.3"/>
<line x1="485.05" y1="317.50" x2="489.55" y2="317.50" stroke="#000" stroke-width="1.8"/>
<line x1="499.30" y1="280.30" x2="499.30" y2="266.20" stroke="#000" stroke-width="1.3"/>
<line x1="497.05" y1="266.20" x2="501.55" y2="266.20" stroke="#000" stroke-width="1.8"/>
<rect x="276.40" y="305.70" width="12.00" height="55.10" fill="#fff" stroke="#000" stroke-width="1.1"/>
<rect x="288.40" y="298.80" width="12.70" height="62.00" fill="#000" stroke="#000" stroke-width="1.1"/>
<rect x="313.00" y="308.00" width="12.00" height="52.80" fill="#fff" stroke="#000" stroke-width="1.1"/>
<rect x="325.00" y="278.90" width="12.10" height="81.90" fill="#000" stroke="#000" stroke-width="1.1"/>
<rect x="360.50" y="309.00" width="12.80" height="51.80" fill="#fff" stroke="#000" stroke-width="1.1"/>
<rect x="373.30" y="313.50" width="12.00" height="47.30" fill="#000" stroke="#000" stroke-width="1.1"/>
<rect x="396.80" y="327.40" width="11.80" height="33.40" fill="#fff" stroke="#000" stroke-width="1.1"/>
<rect x="408.60" y="274.60" width="13.00" height="86.20" fill="#000" stroke="#000" stroke-width="1.1"/>
<rect x="445.00" y="321.00" width="12.20" height="39.80" fill="#fff" stroke="#000" stroke-width="1.1"/>
<rect x="457.20" y="310.10" width="12.30" height="50.70" fill="#000" stroke="#000" stroke-width="1.1"/>
<rect x="481.30" y="321.00" width="11.70" height="39.80" fill="#fff" stroke="#000" stroke-width="1.1"/>
<rect x="493.00" y="280.30" width="12.80" height="80.50" fill="#000" stroke="#000" stroke-width="1.1"/>
<text x="272.00" y="369.80" font-size="8.3" textLength="25.30" lengthAdjust="spacingAndGlyphs">control</text>
<text x="302.90" y="369.80" font-size="8.3" textLength="39.60" lengthAdjust="spacingAndGlyphs">CD30CAR</text>
<line x1="343.00" y1="364.30" x2="346.00" y2="364.30" stroke="#000" stroke-width="0.9"/>
<line x1="344.50" y1="362.80" x2="344.50" y2="365.80" stroke="#000" stroke-width="0.9"/>
<path d="M270.8,371.6 Q270.8,373.4 273.8,373.4 L303.6,373.4 Q306.6,373.4 306.6,375.2 Q306.6,373.4 309.6,373.4 L339.5,373.4 Q342.5,373.4 342.5,371.6" fill="none" stroke="#000" stroke-width="0.9"/>
<text x="292.50" y="382.80" font-size="8.1" textLength="28.60" lengthAdjust="spacingAndGlyphs">Donor 1</text>
<text x="357.30" y="369.80" font-size="8.3" textLength="24.90" lengthAdjust="spacingAndGlyphs">control</text>
<text x="389.40" y="369.80" font-size="8.3" textLength="39.60" lengthAdjust="spacingAndGlyphs">CD30CAR</text>
<line x1="429.70" y1="364.30" x2="432.70" y2="364.30" stroke="#000" stroke-width="0.9"/>
<line x1="431.20" y1="362.80" x2="431.20" y2="365.80" stroke="#000" stroke-width="0.9"/>
<path d="M356.0,371.6 Q356.0,373.4 359.0,373.4 L390.8,373.4 Q393.8,373.4 393.8,375.2 Q393.8,373.4 396.8,373.4 L428.5,373.4 Q431.5,373.4 431.5,371.6" fill="none" stroke="#000" stroke-width="0.9"/>
<text x="382.90" y="382.80" font-size="8.1" textLength="28.70" lengthAdjust="spacingAndGlyphs">Donor 2</text>
<text x="443.80" y="369.80" font-size="8.3" textLength="24.80" lengthAdjust="spacingAndGlyphs">control</text>
<text x="475.30" y="369.80" font-size="8.3" textLength="39.00" lengthAdjust="spacingAndGlyphs">CD30CAR</text>
<line x1="514.90" y1="364.30" x2="517.90" y2="364.30" stroke="#000" stroke-width="0.9"/>
<line x1="516.40" y1="362.80" x2="516.40" y2="365.80" stroke="#000" stroke-width="0.9"/>
<path d="M443.0,371.6 Q443.0,373.4 446.0,373.4 L476.0,373.4 Q479.0,373.4 479.0,375.2 Q479.0,373.4 482.0,373.4 L512.0,373.4 Q515.0,373.4 515.0,371.6" fill="none" stroke="#000" stroke-width="0.9"/>
<text x="458.00" y="382.80" font-size="8.1" textLength="29.30" lengthAdjust="spacingAndGlyphs">Donor 3</text>
</g>
</svg>
</body></html>
